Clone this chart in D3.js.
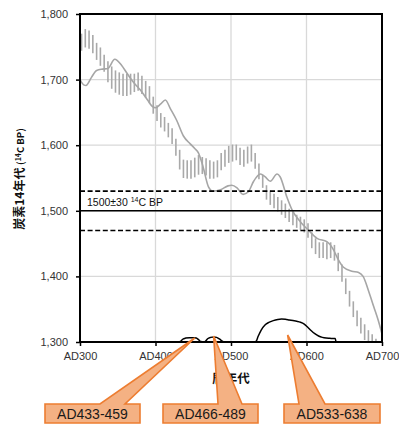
<!DOCTYPE html>
<html>
<head>
<meta charset="utf-8">
<script src="https://cdn.jsdelivr.net/npm/d3@7"></script>
<style>
  html, body { margin: 0; padding: 0; background: #fff; }
  svg { display: block; }
  text { font-family: "Liberation Sans", Arial, sans-serif; }
  .cjk { font-family: "Noto Sans CJK JP", "Noto Sans", sans-serif; }
</style>
</head>
<body>
<svg id="chart" width="399" height="425"></svg>
<script>
// Axis ticks
const yearTicks = [300, 400, 500, 600, 700];
const c14Ticks = [1300, 1400, 1500, 1600, 1700, 1800];

// Calibration curve (calendar year AD, 14C age BP)
const curveYears = [300, 305, 308, 315, 322, 330, 337, 346, 355, 362, 370, 380, 390, 395, 400, 407, 413, 420, 428, 437, 446, 452, 457, 463, 470, 476, 486, 496, 501, 508, 516, 523, 530, 539, 545, 552, 561, 565, 574, 581, 592, 603, 614, 627, 636, 641, 649, 660, 669, 675, 683, 689, 695, 700];
const curveC14 = [1700, 1692, 1691, 1703, 1714, 1716, 1717, 1731, 1722, 1710, 1697, 1684, 1668, 1660, 1657, 1663, 1669, 1655, 1638, 1614, 1602, 1595, 1588, 1567, 1537, 1530, 1532, 1538, 1539, 1535, 1525, 1529, 1545, 1556, 1552, 1545, 1556, 1552, 1521, 1501, 1483, 1470, 1458, 1453, 1440, 1428, 1414, 1408, 1406, 1400, 1375, 1354, 1333, 1312];

// Measured 14C ages with their errors
const barYears = [302, 307, 312, 317, 322, 327, 332, 337, 342, 347, 352, 357, 362, 367, 372, 377, 382, 387, 392, 397, 402, 407, 412, 417, 422, 427, 432, 437, 442, 447, 452, 457, 462, 467, 472, 477, 482, 487, 492, 497, 502, 507, 512, 517, 522, 527, 532, 537, 542, 547, 552, 557, 562, 567, 572, 577, 582, 587, 592, 597, 602, 607, 612, 617, 622, 627, 632, 637, 642, 647, 652, 657, 662, 667, 672, 677, 682, 687, 692, 697];
const barC14 = [1757, 1763, 1761, 1754, 1743, 1735, 1725, 1712, 1703, 1697, 1694, 1692, 1692, 1693, 1695, 1697, 1692, 1685, 1677, 1661, 1649, 1638, 1632, 1623, 1614, 1597, 1578, 1564, 1563, 1563, 1566, 1570, 1569, 1567, 1563, 1562, 1564, 1575, 1580, 1586, 1588, 1589, 1583, 1580, 1585, 1588, 1576, 1560, 1545, 1528, 1520, 1515, 1510, 1505, 1500, 1493, 1488, 1484, 1481, 1477, 1470, 1455, 1446, 1440, 1440, 1439, 1440, 1436, 1422, 1405, 1385, 1366, 1350, 1336, 1325, 1315, 1307, 1302, 1295, 1290];
const barErr = [13, 14, 14, 14, 13, 14, 13, 16, 17, 17, 17, 17, 17, 16, 14, 14, 14, 13, 13, 13, 12, 11, 11, 11, 12, 13, 15, 14, 14, 14, 15, 15, 13, 13, 14, 13, 13, 13, 13, 13, 13, 12, 13, 13, 13, 13, 12, 12, 10, 11, 11, 11, 11, 11, 11, 10, 10, 10, 10, 10, 11, 12, 12, 12, 12, 13, 12, 12, 14, 13, 12, 12, 12, 12, 12, 12, 11, 10, 10, 10];

// Measured sample age
const sampleAge = 1500;
const sampleErr = 30;

// Calibrated probability distribution (relative density)
const probYears = [430, 433, 436, 440, 445, 450, 454, 457, 460, 463, 466, 469, 473, 477, 481, 485, 489, 492, 530, 533, 536, 540, 545, 550, 556, 562, 567, 572, 577, 582, 587, 592, 597, 601, 606, 611, 616, 621, 626, 631, 636, 638, 639];
const probDensity = [0, 0.02, 0.12, 0.17, 0.19, 0.19, 0.17, 0.10, 0.02, 0, 0.03, 0.14, 0.20, 0.22, 0.20, 0.12, 0.03, 0, 0, 0.02, 0.25, 0.52, 0.74, 0.85, 0.93, 0.98, 1.0, 0.99, 0.96, 0.93, 0.90, 0.86, 0.78, 0.66, 0.50, 0.36, 0.26, 0.20, 0.17, 0.16, 0.15, 0.15, 0];

// Calibrated ranges
const rangeLabels = ["AD433-459", "AD466-489", "AD533-638"];
const rangeTipYears = [452, 477, 575];

const svg = d3.select("#chart");
const m = { left: 80, right: 382, top: 14, bottom: 342 };

const x = d3.scaleLinear().domain([300, 700]).range([m.left, m.right]);
const y = d3.scaleLinear().domain([1300, 1800]).range([m.bottom, m.top]);
const yProb = d3.scaleLinear().domain([0, 1]).range([m.bottom, m.bottom - 23]);

svg.append("defs").append("clipPath").attr("id", "plotClip")
  .append("rect").attr("x", m.left).attr("y", m.top)
  .attr("width", m.right - m.left).attr("height", m.bottom - m.top);

// Gridlines
const grid = svg.append("g");
grid.selectAll("line.gx").data(yearTicks.slice(1, -1)).join("line")
  .attr("x1", d => x(d)).attr("x2", d => x(d))
  .attr("y1", m.top).attr("y2", m.bottom)
  .attr("stroke", "#d9d9d9").attr("stroke-width", 1.3);
grid.selectAll("line.gy").data(c14Ticks.slice(1, -1)).join("line")
  .attr("x1", m.left).attr("x2", m.right)
  .attr("y1", d => y(d)).attr("y2", d => y(d))
  .attr("stroke", "#d9d9d9").attr("stroke-width", 1.3);

const plot = svg.append("g").attr("clip-path", "url(#plotClip)");

// Error bars of the measurements
plot.selectAll("line.bar").data(barYears).join("line")
  .attr("x1", d => x(d)).attr("x2", d => x(d))
  .attr("y1", (d, i) => y(barC14[i] + barErr[i]))
  .attr("y2", (d, i) => y(barC14[i] - barErr[i]))
  .attr("stroke", "#a9a9a9").attr("stroke-width", 1.6);

// Calibration curve
plot.append("path")
  .datum(curveYears.map((d, i) => [d, curveC14[i]]))
  .attr("d", d3.line().x(d => x(d[0])).y(d => y(d[1])).curve(d3.curveMonotoneX))
  .attr("fill", "none").attr("stroke", "#a6a6a6").attr("stroke-width", 1.6);

// Sample age and its error range
plot.append("line")
  .attr("x1", m.left).attr("x2", m.right)
  .attr("y1", y(sampleAge)).attr("y2", y(sampleAge))
  .attr("stroke", "#000").attr("stroke-width", 1.6);
plot.selectAll("line.err").data([sampleAge + sampleErr, sampleAge - sampleErr]).join("line")
  .attr("x1", m.left).attr("x2", m.right)
  .attr("y1", d => y(d)).attr("y2", d => y(d))
  .attr("stroke", "#000").attr("stroke-width", 1.6)
  .attr("stroke-dasharray", "5,2.6");

const ageLabel = svg.append("text")
  .attr("x", m.left + 7).attr("y", y(sampleAge) - 5)
  .attr("font-size", 10.5).attr("fill", "#111");
ageLabel.append("tspan").text(`${sampleAge}±${sampleErr} `);
ageLabel.append("tspan").attr("font-size", 7).attr("dy", -4).text("14");
ageLabel.append("tspan").attr("dy", 4).text("C BP");

// Probability distribution
plot.append("path")
  .datum(probYears.map((d, i) => [d, probDensity[i]]))
  .attr("d", d3.line().x(d => x(d[0])).y(d => yProb(d[1])).curve(d3.curveMonotoneX))
  .attr("fill", "none").attr("stroke", "#000").attr("stroke-width", 1.5);

// Axes
const yAxis = svg.append("g").attr("transform", `translate(${m.left},0)`)
  .call(d3.axisLeft(y).tickValues(c14Ticks).tickSize(4).tickPadding(8).tickFormat(d3.format(",")));
const xAxis = svg.append("g").attr("transform", `translate(0,${m.bottom})`)
  .call(d3.axisBottom(x).tickValues(yearTicks).tickSize(4).tickPadding(6).tickFormat(d => "AD" + d));
[yAxis, xAxis].forEach(a => {
  a.select(".domain").remove();
  a.selectAll(".tick line").attr("stroke", "#000").attr("stroke-width", 1.5);
  a.selectAll(".tick text").attr("font-size", 11).attr("fill", "#333")
    .attr("font-family", "'Liberation Sans', Arial, sans-serif");
});

// Plot frame
svg.append("rect")
  .attr("x", m.left).attr("y", m.top)
  .attr("width", m.right - m.left).attr("height", m.bottom - m.top)
  .attr("fill", "none").attr("stroke", "#000").attr("stroke-width", 2);

// Axis titles
const yTitle = svg.append("text").attr("class", "cjk")
  .attr("transform", `translate(24,179) rotate(-90)`)
  .attr("text-anchor", "middle").attr("font-weight", "bold").attr("fill", "#111");
yTitle.append("tspan").attr("font-size", 12).text("炭素14年代 ");
yTitle.append("tspan").attr("font-size", 9.5).text("(");
yTitle.append("tspan").attr("font-size", 7).attr("dy", -3.5).text("14");
yTitle.append("tspan").attr("font-size", 9.5).attr("dy", 3.5).text("C BP)");

svg.append("text").attr("class", "cjk")
  .attr("x", 231).attr("y", 383)
  .attr("text-anchor", "middle").attr("font-weight", "bold")
  .attr("font-size", 12.5).attr("fill", "#111").text("暦年代");

// Callouts for calibrated ranges
const boxes = [
  { x0: 45, x1: 140, bL: 100, bR: 125 },
  { x0: 163, x1: 258, bL: 218, bR: 242 },
  { x0: 284, x1: 380, bL: 299, bR: 325 }
];
const boxTop = 404, boxBottom = 423;
const tipY = [338, 336, 335];
const callouts = svg.append("g");
rangeLabels.forEach((label, i) => {
  const b = boxes[i];
  const tx = x(rangeTipYears[i]);
  const p = d3.path();
  p.moveTo(b.x0, boxTop);
  p.lineTo(b.bL, boxTop);
  p.lineTo(tx, tipY[i]);
  p.lineTo(b.bR, boxTop);
  p.lineTo(b.x1, boxTop);
  p.lineTo(b.x1, boxBottom);
  p.lineTo(b.x0, boxBottom);
  p.closePath();
  callouts.append("path").attr("d", p.toString())
    .attr("fill", "#f4b183").attr("stroke", "#ed7d31")
    .attr("stroke-width", 1.6).attr("stroke-linejoin", "miter");
  callouts.append("text")
    .attr("x", (b.x0 + b.x1) / 2).attr("y", boxBottom - 4.5)
    .attr("text-anchor", "middle").attr("font-size", 14)
    .attr("fill", "#1a1a1a").text(label);
});
</script>
</body>
</html>
